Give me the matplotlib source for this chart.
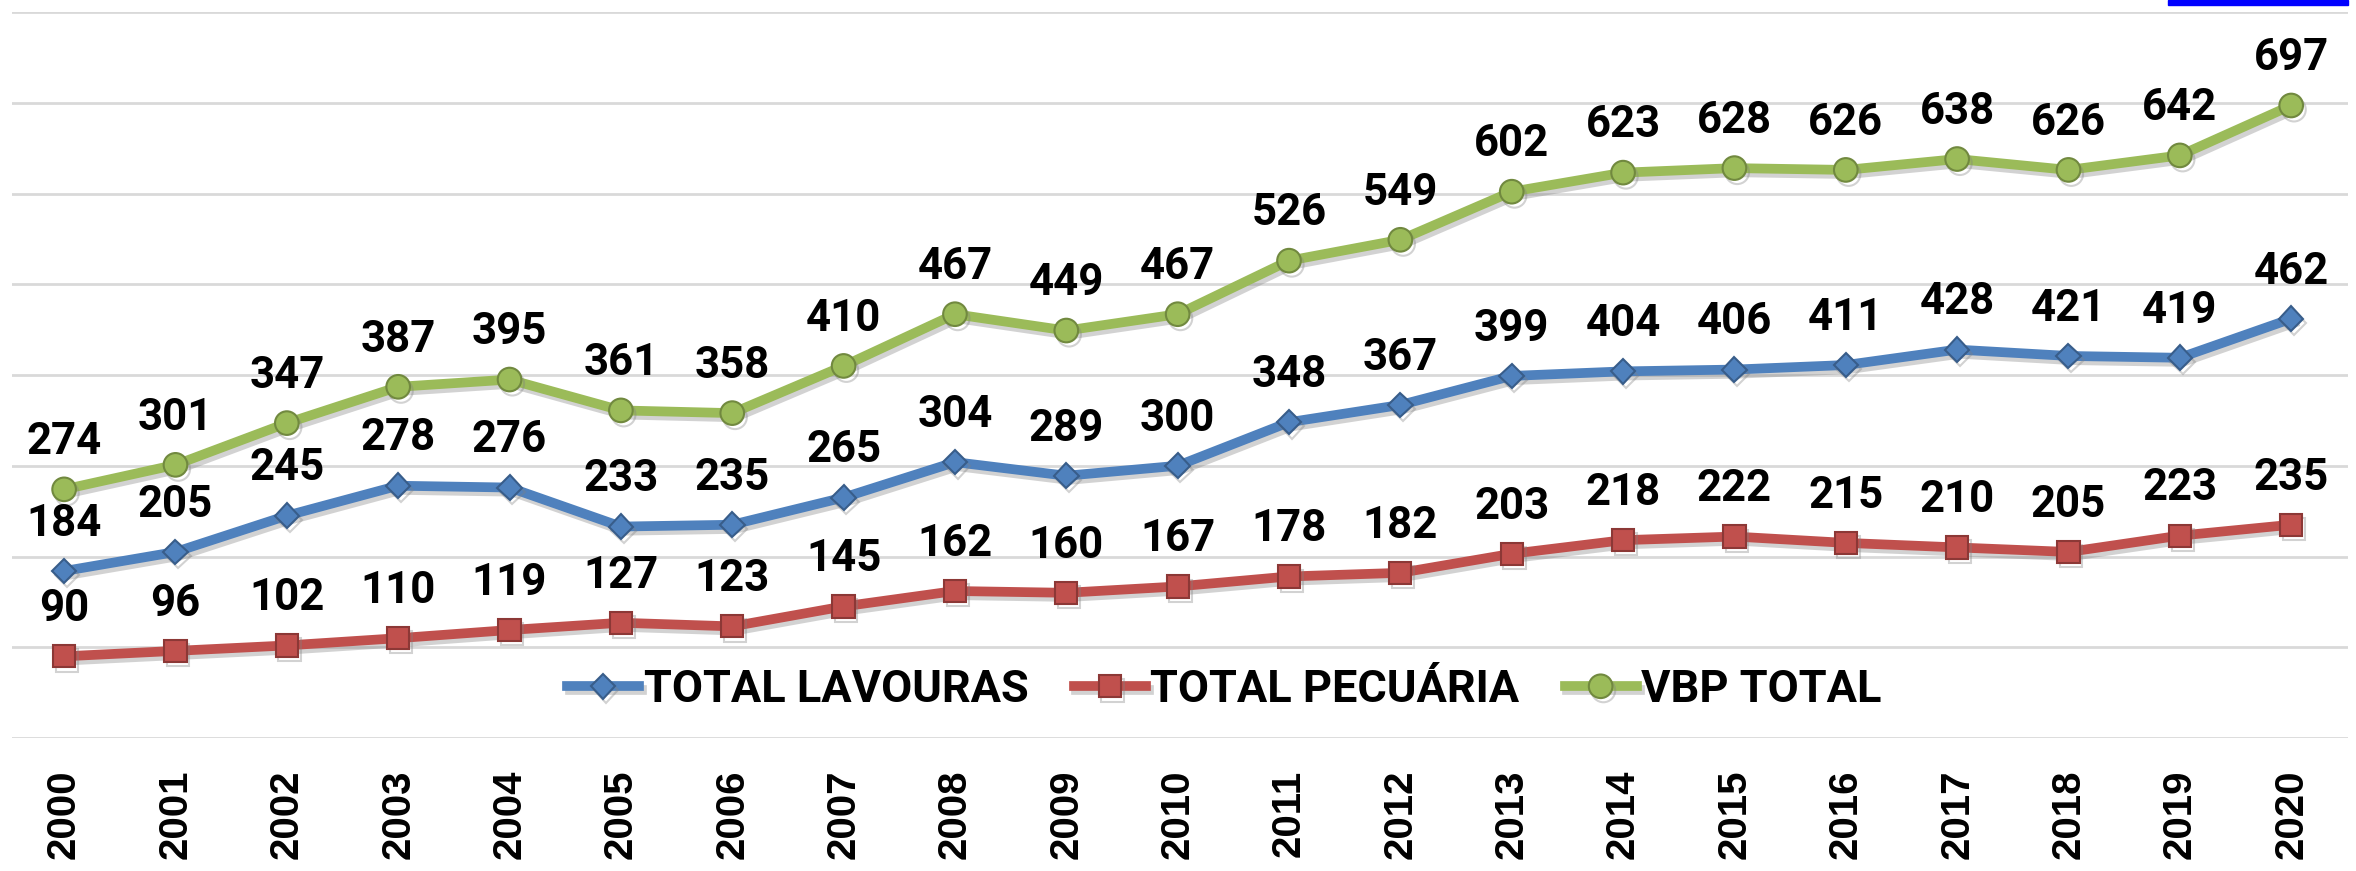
import matplotlib
matplotlib.use('Agg')
import matplotlib.pyplot as plt
import matplotlib.patheffects as pe
from matplotlib.patches import Rectangle

years = [str(y) for y in range(2000, 2021)]
lavouras = [184, 205, 245, 278, 276, 233, 235, 265, 304, 289, 300, 348, 367, 399, 404, 406, 411, 428, 421, 419, 462]
pecuaria = [90, 96, 102, 110, 119, 127, 123, 145, 162, 160, 167, 178, 182, 203, 218, 222, 215, 210, 205, 223, 235]
vbp_total = [274, 301, 347, 387, 395, 361, 358, 410, 467, 449, 467, 526, 549, 602, 623, 628, 626, 638, 626, 642, 697]

series = [
    ("TOTAL LAVOURAS", lavouras, '#4F81BD', '#385D8A', 'D', 12.5),
    ("TOTAL PECUÁRIA", pecuaria, '#C0504D', '#8C3836', 's', 16),
    ("VBP TOTAL", vbp_total, '#9BBB59', '#71893F', 'o', 17),
]

fig = plt.figure(figsize=(23.56, 8.71), dpi=100)
ax = fig.add_axes([0.005, 0.1527, 0.9916, 0.8335])

x = list(range(len(years)))
shadow = [pe.SimpleLineShadow(offset=(2, -3), shadow_color='gray', alpha=0.35), pe.Normal()]

for name, vals, col, edge, mk, ms in series:
    ax.plot(x, vals, color=col, lw=7, marker=mk, markersize=ms,
            markerfacecolor=col, markeredgecolor=edge, markeredgewidth=1.5,
            label=name, path_effects=shadow, zorder=3)
    for xi, v in zip(x, vals):
        ax.annotate(str(v), (xi, v), xytext=(0, 34), textcoords='offset points',
                    ha='center', va='center', fontsize=31.5, fontweight='bold',
                    family='Roboto', color='black', zorder=5)

ax.set_xlim(-0.47, 20.51)
ax.set_ylim(0, 800)
ax.set_yticks(range(0, 801, 100))
ax.yaxis.grid(True, color='#D9D9D9', lw=2)
ax.set_axisbelow(True)
ax.tick_params(axis='y', left=False, labelleft=False)
ax.set_xticks(x)
ax.set_xticklabels(years, rotation=90, fontsize=29, fontweight='bold', family='Liberation Sans')
ax.tick_params(axis='x', length=0, pad=23)
for s in ax.spines.values():
    s.set_visible(False)

leg = ax.legend(loc='center', bbox_to_anchor=(0.519, 0.066), ncol=3, frameon=False,
                prop={'family': 'Roboto', 'weight': 'bold', 'size': 32.5},
                handlelength=1.6, handletextpad=0.1, columnspacing=1.0)

# blue bar at top right corner
fig.patches.append(Rectangle((2168 / 2356, 1 - 5 / 871), 180 / 2356, 5 / 871,
                             transform=fig.transFigure, color='#0000FF', zorder=10))

fig.savefig('out.png', dpi=100)
